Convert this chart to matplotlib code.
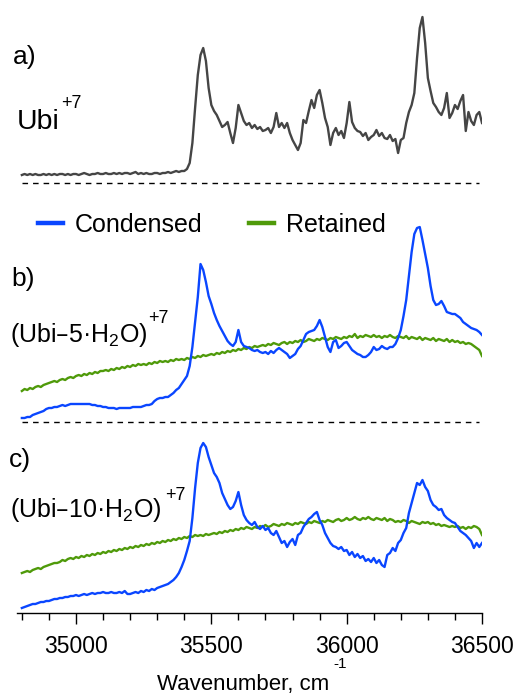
import numpy as np
import matplotlib
matplotlib.use("Agg")
import matplotlib.pyplot as plt
from matplotlib.ticker import MultipleLocator

plt.rcParams['font.family'] = ['Liberation Sans', 'DejaVu Sans']

# ---------------- data (10 cm-1 grid, 34800 ... 36500) ----------------
wavenumber = np.arange(34800, 36501, 10)

ubi7 = [
    8, 9, 8, 9, 8, 9, 8, 8, 9, 8,
    9, 8, 9, 8, 9, 9, 8, 9, 8, 9,
    9, 8, 9, 10, 9, 8, 9, 9, 10, 9,
    9, 10, 9, 9, 10, 9, 10, 9, 10, 10,
    9, 10, 11, 9, 10, 9, 10, 9, 9, 10,
    10, 9, 10, 10, 11, 10, 11, 12, 11, 12,
    12, 14, 20, 40, 75, 108, 128, 135, 122, 95,
    78, 72, 68, 62, 56, 58, 61, 50, 40, 55,
    78, 70, 62, 58, 60, 55, 58, 54, 56, 52,
    53, 55, 50, 56, 70, 56, 60, 55, 60, 50,
    43, 38, 33, 40, 63, 60, 72, 83, 75, 88,
    93, 80, 65, 56, 38, 50, 55, 48, 52, 45,
    60, 81, 61, 55, 52, 51, 47, 50, 43, 46,
    48, 53, 47, 50, 45, 44, 48, 42, 44, 30,
    43, 45, 60, 71, 78, 90, 125, 155, 166, 140,
    105, 92, 80, 76, 71, 68, 75, 90, 65, 70,
    78, 74, 82, 88, 52, 71, 62, 58, 68, 71,
    60,
]

condensed_5 = [
    4, 4, 5, 5, 7, 8, 9, 10, 11, 13,
    14, 14, 15, 15, 16, 17, 16, 17, 18, 18,
    18, 18, 18, 18, 18, 18, 17, 17, 16, 16,
    15, 15, 14, 14, 14, 13, 14, 14, 14, 14,
    14, 15, 15, 15, 15, 16, 17, 17, 18, 21,
    23, 24, 24, 25, 25, 27, 29, 32, 34, 38,
    42, 46, 56, 75, 100, 125, 158, 152, 140, 126,
    118, 109, 102, 96, 91, 86, 81, 78, 76, 80,
    92, 80, 76, 75, 74, 72, 71, 72, 70, 69,
    70, 68, 71, 69, 72, 74, 72, 70, 68, 64,
    66, 68, 73, 76, 82, 88, 90, 91, 92, 96,
    102, 95, 85, 75, 70, 80, 82, 74, 76, 79,
    80, 76, 72, 70, 68, 67, 65, 65, 67, 70,
    75, 72, 73, 76, 74, 73, 75, 75, 78, 84,
    92, 106, 122, 146, 170, 188, 194, 195, 182, 168,
    154, 136, 122, 117, 118, 121, 116, 110, 109, 108,
    108, 106, 104, 100, 98, 96, 94, 93, 92, 90,
    87,
]

retained_5 = [
    31, 33, 32, 34, 33, 35, 36, 35, 37, 38,
    39, 40, 41, 40, 42, 43, 42, 44, 45, 44,
    46, 47, 46, 48, 47, 49, 48, 50, 49, 51,
    51, 52, 51, 53, 52, 54, 53, 55, 54, 56,
    55, 57, 56, 58, 57, 58, 57, 59, 58, 60,
    59, 61, 60, 61, 60, 62, 61, 63, 62, 63,
    62, 64, 63, 65, 64, 66, 65, 67, 66, 67,
    68, 67, 69, 68, 70, 69, 71, 70, 72, 71,
    73, 72, 74, 73, 75, 74, 76, 75, 76, 77,
    76, 78, 77, 79, 78, 77, 79, 80, 78, 80,
    79, 81, 80, 82, 80, 81, 83, 82, 81, 83,
    82, 84, 83, 82, 84, 83, 85, 84, 83, 85,
    84, 86, 85, 88, 84, 86, 85, 87, 86, 85,
    87, 85, 86, 84, 86, 85, 87, 85, 84, 86,
    85, 84, 86, 83, 85, 84, 83, 85, 82, 84,
    83, 82, 84, 81, 83, 82, 81, 83, 80, 82,
    80, 81, 79, 80, 78, 79, 78, 76, 74, 72,
    66,
]

condensed_10 = [
    5, 6, 7, 8, 9, 9, 10, 11, 11, 12,
    12, 13, 14, 14, 15, 15, 16, 16, 17, 17,
    18, 17, 18, 19, 18, 19, 20, 19, 20, 20,
    21, 20, 20, 21, 20, 20, 21, 20, 22, 19,
    19, 20, 21, 20, 22, 21, 23, 22, 24, 23,
    25, 26, 27, 28, 29, 31, 33, 36, 40, 46,
    53, 62, 72, 95, 125, 150, 165, 170, 166, 156,
    148, 140, 136, 130, 120, 114, 108, 104, 106, 112,
    121, 108, 98, 93, 90, 88, 91, 86, 84, 87,
    83, 85, 80, 78, 82, 76, 70, 72, 66, 71,
    74, 68, 78, 80, 86, 90, 94, 96, 99, 101,
    93, 88, 80, 75, 70, 67, 66, 64, 66, 62,
    63, 58, 61, 56, 59, 55, 57, 52, 54, 51,
    55, 50, 53, 48, 46, 58, 60, 65, 62, 70,
    73, 80, 85, 100, 110, 120, 130, 128, 133, 126,
    122, 113, 108, 106, 103, 104, 98, 95, 93, 91,
    90, 86, 82, 80, 78, 75, 72, 65, 70, 66,
    70,
]

retained_10 = [
    40, 41, 42, 41, 43, 44, 45, 44, 46, 47,
    48, 49, 50, 50, 51, 53, 52, 54, 55, 54,
    56, 55, 57, 56, 58, 57, 59, 58, 60, 59,
    61, 60, 62, 61, 63, 62, 64, 63, 65, 64,
    66, 65, 67, 66, 68, 67, 69, 68, 70, 69,
    71, 70, 72, 71, 73, 72, 74, 73, 75, 74,
    76, 75, 77, 76, 78, 77, 78, 77, 79, 78,
    79, 80, 79, 81, 80, 82, 81, 83, 82, 84,
    83, 85, 84, 86, 85, 84, 86, 85, 87, 86,
    88, 86, 87, 89, 88, 87, 89, 88, 90, 89,
    88, 90, 89, 91, 90, 89, 91, 90, 92, 91,
    90, 92, 91, 93, 92, 91, 93, 94, 92, 93,
    95, 93, 94, 96, 94, 93, 95, 94, 96, 94,
    93, 95, 94, 93, 95, 92, 94, 93, 91, 92,
    91, 93, 92, 90, 92, 91, 90, 89, 91, 90,
    91, 89, 90, 88, 89, 87, 88, 87, 86, 87,
    86, 87, 85, 86, 84, 86, 85, 87, 86, 84,
    78,
]

xticks_major = [35000, 35500, 36000, 36500]

# ---------------- figure ----------------
W, H = 517, 696
fig = plt.figure(figsize=(W / 100, H / 100), dpi=100)


def px_axes(left, top, right, bottom):
    return fig.add_axes([left / W, 1 - bottom / H, (right - left) / W, (bottom - top) / H])


def ftext(x, y, s, size, **kw):
    return fig.text(x / W, 1 - y / H, s, fontsize=size, va='baseline', ha='left', **kw)


ax_a = px_axes(17, 5, 482, 193)
ax_b = px_axes(17, 212, 482, 432)
ax_c = px_axes(17, 433, 482, 613)
ax_a.set_ylim(-10, 178)
ax_b.set_ylim(-10, 210)
ax_c.set_ylim(0, 180)

GRAY = '#454545'
BLUE = '#0a46ff'
GREEN = '#4f9a0a'
LW = 1.7

for ax in (ax_a, ax_b, ax_c):
    ax.set_xlim(34782, 36500)
    ax.patch.set_alpha(0)
    for sp in ax.spines.values():
        sp.set_visible(False)
    ax.set_yticks([])

for ax in (ax_a, ax_b):
    ax.set_xticks([])

ax_a.plot(wavenumber, ubi7, color=GRAY, lw=LW)
ax_a.hlines(0, wavenumber[0], wavenumber[-1] - 10, colors='k', lw=1.0,
            linestyles=(0, (4, 3.6)))

l_ret, = ax_b.plot(wavenumber, retained_5, color=GREEN, lw=LW, label='Retained')
l_con, = ax_b.plot(wavenumber, condensed_5, color=BLUE, lw=LW, label='Condensed')
ax_b.hlines(0, wavenumber[0], wavenumber[-1] - 10, colors='k', lw=1.0,
            linestyles=(0, (4, 3.6)))

ax_c.plot(wavenumber, retained_10, color=GREEN, lw=LW)
ax_c.plot(wavenumber, condensed_10, color=BLUE, lw=LW)

ax_c.spines['bottom'].set_visible(True)
ax_c.spines['bottom'].set_linewidth(1.0)
ax_c.set_xticks(xticks_major)
ax_c.xaxis.set_minor_locator(MultipleLocator(100))
ax_c.tick_params(axis='x', which='major', length=8, width=1.0, labelsize=16.5, pad=8)
ax_c.tick_params(axis='x', which='minor', length=5, width=1.0)

leg = fig.legend(handles=[l_con, l_ret], loc='center left',
                 bbox_to_anchor=(38 / W, 1 - 225 / H), ncol=2, frameon=False,
                 fontsize=18, handlelength=1.0, handletextpad=0.45,
                 columnspacing=1.9, borderpad=0, borderaxespad=0)
for h in leg.legend_handles:
    h.set_linewidth(3.2)

# ---------------- annotations ----------------
ftext(13, 64, 'a)', 19)
ftext(17, 129, 'Ubi', 20.5)
ftext(61, 108, '+7', 13)

ftext(11, 286, 'b)', 19)
ftext(10, 342, '(Ubi\u20135\u00b7H$_\\mathregular{2}$O)', 18)
ftext(148, 323, '+7', 13)

ftext(9, 467, 'c)', 19)
ftext(10, 517, '(Ubi\u201310\u00b7H$_\\mathregular{2}$O)', 18)
ftext(165, 500, '+7', 13)

ftext(157, 690, 'Wavenumber, cm', 16)
ftext(333, 668, '-1', 11)

fig.savefig('out.png', dpi=100)
